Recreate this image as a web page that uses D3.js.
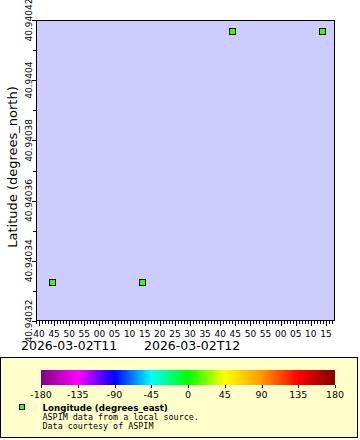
<!DOCTYPE html>
<html><head><meta charset="utf-8">
<script src="https://cdn.jsdelivr.net/npm/d3@7"></script>
<style>body{margin:0;background:#fff}svg{display:block}</style>
</head><body><svg id="c" width="360" height="440"></svg>
<script>
// ---- data ----
const times = ["2026-03-02T10:44:12Z","2026-03-02T11:14:06Z","2026-03-02T11:43:48Z","2026-03-02T12:13:42Z"];
const latitudes = [40.9403331, 40.9403331, 40.9404164, 40.9404164];
const longitudes = [9, 9, 9, 9];
const yTicks = [40.94032, 40.94034, 40.94036, 40.94038, 40.9404, 40.94042];
const yTickLabels = ["40.94032","40.94034","40.94036","40.94038","40.9404","40.94042"];
const colorStops = [-180,-135,-90,-45,0,45,90,135,180];
const colorValues = ["#800080","#ff00ff","#0000ff","#00ffff","#00ff00","#ffff00","#ff9900","#ff0000","#800000"];
const dateLabels = ["2026-03-02T11","2026-03-02T12"];
const legendTitle = "Longitude (degrees_east)";
const legendLines = ["ASPIM data from a local source.","Data courtesy of ASPIM"];
const yTitle = "Latitude (degrees_north)";

// ---- layout ----
const svg = d3.select("#c");
const L = 36, R = 335, T = 20, B = 321;
const x = d3.scaleUtc().domain([new Date("2026-03-02T10:39:00Z"), new Date("2026-03-02T12:18:00Z")]).range([L, R]);
const y = d3.scaleLinear().domain([40.94032, 40.94042]).range([B, T]);
const color = d3.scaleLinear().domain(colorStops).range(colorValues);
const F = "DejaVu Sans, sans-serif";

svg.append("rect").attr("x", L).attr("y", T).attr("width", R - L).attr("height", B - T)
  .attr("fill", "#ccccff");

// x axis: minor every minute, major every 5
const minor = d3.utcMinute.every(1).range(x.domain()[0], x.domain()[1]);
const major = d3.utcMinute.every(5).range(x.domain()[0], x.domain()[1]);
svg.append("g").selectAll("line").data(minor).join("line")
  .attr("x1", d => Math.round(x(d)) + 0.5).attr("x2", d => Math.round(x(d)) + 0.5)
  .attr("y1", B).attr("y2", B + 3).attr("stroke", "#000");
svg.append("g").selectAll("line").data(major).join("line")
  .attr("x1", d => Math.round(x(d)) + 0.5).attr("x2", d => Math.round(x(d)) + 0.5)
  .attr("y1", B).attr("y2", B + 5).attr("stroke", "#000");
svg.append("g").selectAll("text").data(major).join("text")
  .attr("x", d => x(d)).attr("y", 337).attr("text-anchor", "middle")
  .attr("font-family", F).attr("font-size", 9)
  .text(d3.utcFormat("%M"));
svg.append("g").selectAll("text").data(dateLabels).join("text")
  .attr("x", (d, i) => [21, 144][i]).attr("y", 350)
  .attr("font-family", F).attr("font-size", 12.5).text(d => d);

// y axis
const yMinor = d3.range(40.94033, 40.94042, 0.00002);
svg.append("g").selectAll("line").data(yMinor).join("line")
  .attr("x1", L - 3).attr("x2", L).attr("y1", d => Math.round(y(d)) + 0.5).attr("y2", d => Math.round(y(d)) + 0.5)
  .attr("stroke", "#000");
svg.append("g").selectAll("line").data(yTicks).join("line")
  .attr("x1", L - 4).attr("x2", L).attr("y1", d => Math.round(y(d)) + 0.5).attr("y2", d => Math.round(y(d)) + 0.5)
  .attr("stroke", "#000");
svg.append("g").selectAll("text").data(yTicks).join("text")
  .attr("transform", d => `translate(32,${y(d)}) rotate(-90)`)
  .attr("text-anchor", "middle").attr("font-family", F).attr("font-size", 9)
  .text((d, i) => yTickLabels[i]);
svg.append("text").attr("transform", `translate(17,167) rotate(-90)`)
  .attr("text-anchor", "middle").attr("font-family", F).attr("font-size", 13).text(yTitle);

// plot border
svg.append("rect").attr("x", L + 0.5).attr("y", T + 0.5).attr("width", R - L - 1).attr("height", B - T - 1)
  .attr("fill", "none").attr("stroke", "#000");

// points
svg.append("g").selectAll("rect").data(times).join("rect")
  .attr("x", (d, i) => Math.round(x(new Date(d))) - 3 + 0.5)
  .attr("y", (d, i) => Math.round(y(latitudes[i])) - 3 + 0.5)
  .attr("width", 6).attr("height", 6)
  .attr("fill", (d, i) => color(longitudes[i])).attr("stroke", "#000");

// legend box
svg.append("rect").attr("x", 0.5).attr("y", 357.5).attr("width", 357).attr("height", 80)
  .attr("fill", "#ffffcc").attr("stroke", "#000");

// colorbar
const cb = d3.scaleLinear().domain([-180, 180]).range([41, 335]);
const grad = svg.append("defs").append("linearGradient").attr("id", "g")
  .attr("x1", "0%").attr("x2", "100%").attr("y1", "0%").attr("y2", "0%");
grad.selectAll("stop").data(colorStops).join("stop")
  .attr("offset", d => ((d + 180) / 360 * 100) + "%")
  .attr("stop-color", d => color(d));
svg.append("rect").attr("x", cb(-180)).attr("y", 370).attr("width", cb(180) - cb(-180)).attr("height", 15)
  .attr("fill", "url(#g)");
svg.append("g").selectAll("line").data(colorStops).join("line")
  .attr("x1", d => Math.round(cb(d)) + 0.5).attr("x2", d => Math.round(cb(d)) + 0.5)
  .attr("y1", 385).attr("y2", 388).attr("stroke", "#000");
svg.append("g").selectAll("text").data(colorStops).join("text")
  .attr("x", d => cb(d)).attr("y", 398).attr("text-anchor", "middle")
  .attr("font-family", F).attr("font-size", 9.5).text(d => d);

// legend entry
svg.append("rect").attr("x", 19.5).attr("y", 404.5).attr("width", 5).attr("height", 5)
  .attr("fill", color(longitudes[0])).attr("stroke", "#000");
svg.append("text").attr("x", 42.5).attr("y", 410.5).attr("font-family", F).attr("font-weight", "bold")
  .attr("font-size", 8.7).text(legendTitle);
svg.append("g").selectAll("text").data(legendLines).join("text")
  .attr("x", 42.5).attr("y", (d, i) => 419.5 + i * 9.5)
  .attr("font-family", "DejaVu Sans Mono, monospace").attr("font-size", 8.4).text(d => d);
</script></body></html>
